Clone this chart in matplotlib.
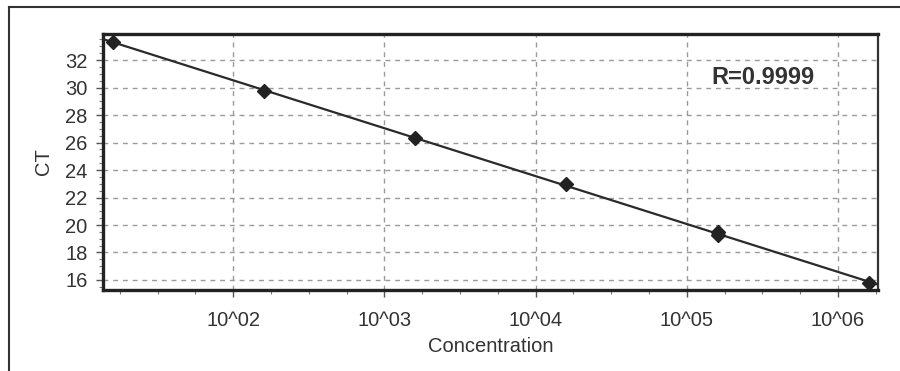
import numpy as np
import matplotlib
matplotlib.use('Agg')
from matplotlib import pyplot as plt
from matplotlib.ticker import FixedLocator, FuncFormatter
from matplotlib.lines import Line2D

plt.rcParams['font.family'] = ['Liberation Sans', 'DejaVu Sans']

# standard curve: concentration vs CT (replicate at 1.6e5)
concentration = [1.6e1, 1.6e2, 1.6e3, 1.6e4, 1.6e5, 1.6e5, 1.6e6]
ct = [33.3, 29.75, 26.35, 22.95, 19.25, 19.5, 15.8]
r_text = 'R=0.9999'
xtick_pos = [1e2, 1e3, 1e4, 1e5, 1e6]
ytick_pos = [16, 18, 20, 22, 24, 26, 28, 30, 32]

fig = plt.figure(figsize=(9, 3.71), dpi=100)
ax = fig.add_axes([0.1144, 0.2183, 0.8612, 0.6901])

logx = np.log10(concentration)
slope, icpt = np.polyfit(logx, ct, 1)
xl = np.array([10**1.139, 10**6.265])
ax.plot(xl, slope * np.log10(xl) + icpt, color='#2a2a2a', lw=1.6, zorder=3)
ax.plot(concentration, ct, 'D', color='#222222', ms=7.5, zorder=4)

ax.set_xscale('log')
ax.set_xlim(10**1.139, 10**6.265)
ax.set_ylim(15.27, 33.9)

ax.xaxis.set_major_locator(FixedLocator(xtick_pos))
minors = [10**(d + f) for d in range(1, 7) for f in (0.25, 0.5, 0.75)]
ax.xaxis.set_minor_locator(FixedLocator(minors))
ax.xaxis.set_major_formatter(FuncFormatter(lambda v, p: '10^%02d' % round(np.log10(v))))
ax.xaxis.set_minor_formatter(FuncFormatter(lambda v, p: ''))
ax.yaxis.set_major_locator(FixedLocator(ytick_pos))
ax.yaxis.set_minor_locator(FixedLocator(np.arange(15.5, 34, 0.5)))

ax.grid(True, which='major', color='#9a9a9a', ls=(0, (3.5, 3.5)), lw=1.0)
ax.tick_params(axis='both', which='major', labelsize=14.5, labelcolor='#333333',
               color='#555555', length=5, width=1)
ax.tick_params(axis='both', which='minor', color='#777777', length=3, width=0.8)
ax.tick_params(axis='x', pad=10)
ax.tick_params(axis='y', pad=6)

for side in ['left', 'bottom', 'top']:
    ax.spines[side].set_linewidth(2.4)
    ax.spines[side].set_color('#222222')
ax.spines['right'].set_linewidth(1.6)
ax.spines['right'].set_color('#333333')

ax.set_xlabel('Concentration', fontsize=14.5, color='#333333', labelpad=5)
ax.set_ylabel('CT', fontsize=14.5, color='#333333', labelpad=9)

ax.text(0.785, 0.83, r_text, transform=ax.transAxes, fontsize=17,
        fontweight='bold', color='#333333', va='center', ha='left')

# outer frame (top and left edges visible)
fig.add_artist(Line2D([9/900, 1], [1 - 7/371, 1 - 7/371], color='#333333', lw=1.5,
                      transform=fig.transFigure))
fig.add_artist(Line2D([9/900, 9/900], [0, 1 - 7/371], color='#333333', lw=1.5,
                      transform=fig.transFigure))

fig.savefig('out.png', dpi=100)
